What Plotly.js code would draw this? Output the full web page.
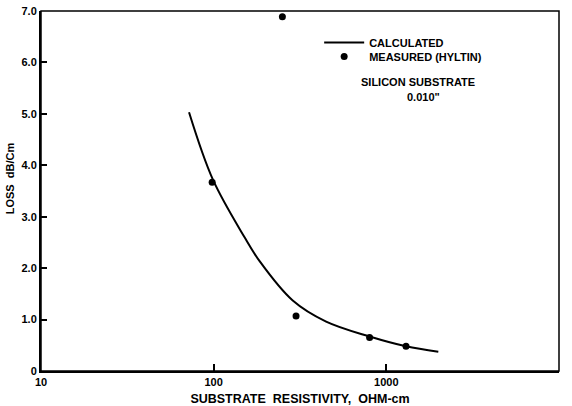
<!DOCTYPE html>
<html>
<head>
<meta charset="utf-8">
<script src="https://cdn.plot.ly/plotly-3.0.1.min.js"></script>
<style>html,body{margin:0;padding:0;background:#fff;}#chart{width:572px;height:406px;}</style>
</head>
<body>
<div id="chart"></div>
<script>
// Calculated loss curve (substrate resistivity, ohm-cm vs loss dB/cm)
var calcX = [72, 99, 151, 185, 287, 448, 800, 1300, 2000];
var calcY = [5.03, 3.72, 2.6, 2.13, 1.37, 0.96, 0.67, 0.48, 0.375];
// Measured (Hyltin)
var measX = [98, 250, 300, 800, 1300];
var measY = [3.67, 6.89, 1.07, 0.65, 0.48];
// Tick labels
var xTickVals = [10, 100, 1000, 10000];
var xTickText = ["10", "100", "1000", "10,000"];
var yTickVals = [0, 1, 2, 3, 4, 5, 6, 7];
var yTickText = ["0", "1.0", "2.0", "3.0", "4.0", "5.0", "6.0", "7.0"];

function bold(arr) { return arr.map(function (s) { return "<b>" + s + "</b>"; }); }

var ink = "black";

var traces = [
  {x: calcX, y: calcY, type: "scatter", mode: "lines", name: "<b>CALCULATED</b>", legend: "legend",
   line: {color: ink, width: 2, shape: "spline", smoothing: 1}},
  {x: measX, y: measY, type: "scatter", mode: "markers", name: "<b>MEASURED (HYLTIN)</b>", legend: "legend2",
   marker: {color: ink, size: 7}}
];

var layout = {
  width: 572, height: 406,
  margin: {l: 41, r: 13, t: 11, b: 35},
  font: {family: "Liberation Sans, Arial, sans-serif", size: 11, color: ink},
  showlegend: true,
  legend: {x: 0.537, y: 0.953, xanchor: "left", yanchor: "top",
           bgcolor: "rgba(0,0,0,0)", itemwidth: 40},
  legend2: {x: 0.537, y: 0.914, xanchor: "left", yanchor: "top",
           bgcolor: "rgba(0,0,0,0)", itemwidth: 40},
  xaxis: {type: "log", range: [1, 4], tickmode: "array", tickvals: xTickVals, ticktext: bold(xTickText),
          ticks: "inside", ticklen: 7, tickwidth: 2, tickcolor: ink,
          showline: true, linecolor: ink, linewidth: 2,
          showgrid: false, zeroline: false,
          title: {text: "<b>SUBSTRATE  RESISTIVITY,  OHM-cm</b>", font: {size: 12.5}}},
  yaxis: {range: [0, 7], tickmode: "array", tickvals: yTickVals, ticktext: bold(yTickText),
          ticks: "inside", ticklen: 6, tickwidth: 2, tickcolor: ink,
          showline: true, linecolor: ink, linewidth: 2,
          showgrid: false, zeroline: false},
  shapes: [
    {type: "rect", xref: "paper", yref: "paper", x0: 0, x1: 1, y0: 0, y1: 1,
     line: {color: ink, width: 1.5}, fillcolor: "rgba(0,0,0,0)"}
  ],
  annotations: [
    {xref: "paper", yref: "paper", x: -0.06, y: 0.535, xanchor: "center", yanchor: "middle",
     text: "<b>LOSS  dB/Cm</b>", textangle: -90, showarrow: false},
    {xref: "paper", yref: "paper", x: 0.728, y: 0.803, xanchor: "center", yanchor: "middle",
     text: "<b>SILICON SUBSTRATE</b>", showarrow: false},
    {xref: "paper", yref: "paper", x: 0.739, y: 0.761, xanchor: "center", yanchor: "middle",
     text: "<b>0.010\"</b>", showarrow: false}
  ]
};

Plotly.newPlot("chart", traces, layout, {displayModeBar: false});
</script>
</body>
</html>
